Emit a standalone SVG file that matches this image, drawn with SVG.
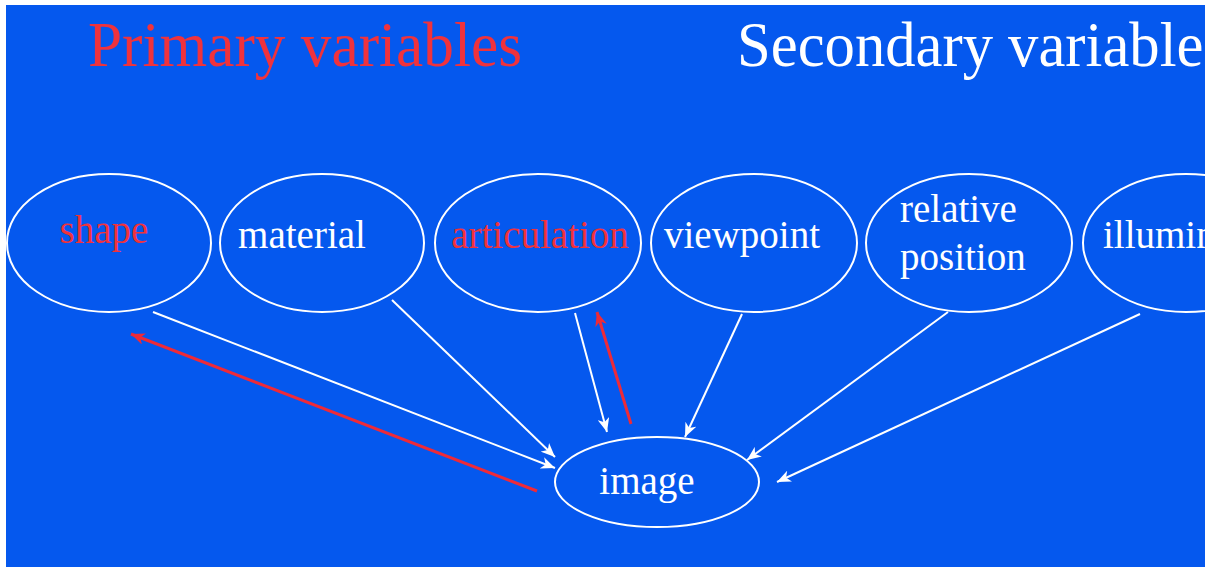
<svg xmlns="http://www.w3.org/2000/svg" width="1217" height="567" viewBox="0 0 1217 567">
  <style>
    .node ellipse { fill: none; stroke: #ffffff; stroke-width: 2; }
    .lbl { font-family: "Liberation Serif", "Times New Roman", serif; font-size: 39px; fill: #ffffff; }
    .lbl.red { fill: #f0323c; }
    .title { font-family: "Liberation Serif", "Times New Roman", serif; font-size: 63px; }
    .edge { fill: none; stroke: #ffffff; stroke-width: 2; }
    .edge.red { stroke: #ee2a38; stroke-width: 3; }
  </style>
  <defs>
    <clipPath id="panel">
      <rect x="6" y="5" width="1199" height="562"/>
    </clipPath>
    <marker id="ah" markerUnits="userSpaceOnUse" markerWidth="16" markerHeight="12" refX="14" refY="6" orient="auto">
      <path d="M0,0 L14,6 L0,12 L4,6 Z" fill="#ffffff"/>
    </marker>
    <marker id="ahr" markerUnits="userSpaceOnUse" markerWidth="16" markerHeight="12" refX="14" refY="6" orient="auto">
      <path d="M0,0 L14,6 L0,12 L4,6 Z" fill="#ee2a38"/>
    </marker>
  </defs>

  <rect x="0" y="0" width="1217" height="567" fill="#ffffff"/>
  <rect x="6" y="5" width="1199" height="562" fill="#0558ee"/>

  <g clip-path="url(#panel)">
    <text class="title" x="88" y="66" fill="#f0323c" textLength="434" lengthAdjust="spacingAndGlyphs">Primary variables</text>
    <text class="title" x="737" y="66" fill="#ffffff" textLength="490" lengthAdjust="spacingAndGlyphs">Secondary variables</text>

    <g id="connectors">
      <line class="edge" x1="153" y1="312" x2="555" y2="468" marker-end="url(#ah)"/>
      <line class="edge" x1="392" y1="300" x2="555" y2="457" marker-end="url(#ah)"/>
      <line class="edge" x1="575" y1="313" x2="607" y2="432" stroke-width="4" marker-end="url(#ah)"/>
      <line class="edge red" x1="631" y1="424" x2="597" y2="312" marker-end="url(#ahr)"/>
      <line class="edge" x1="742" y1="314" x2="685" y2="437" marker-end="url(#ah)"/>
      <line class="edge" x1="948" y1="312" x2="747" y2="460" stroke-width="3" marker-end="url(#ah)"/>
      <line class="edge" x1="1140" y1="314" x2="777" y2="482" marker-end="url(#ah)"/>
      <line class="edge red" x1="537" y1="491" x2="131" y2="334" marker-end="url(#ahr)"/>
    </g>

    <g id="shape" class="node">
      <ellipse cx="109" cy="243" rx="102" ry="69"/>
      <text class="lbl red" x="104" y="243" text-anchor="middle">shape</text>
    </g>
    <g id="material" class="node">
      <ellipse cx="322" cy="243" rx="102" ry="69"/>
      <text class="lbl" x="302" y="248" text-anchor="middle">material</text>
    </g>
    <g id="articulation" class="node">
      <ellipse cx="538" cy="243" rx="103" ry="69"/>
      <text class="lbl red" x="540" y="248" text-anchor="middle">articulation</text>
    </g>
    <g id="viewpoint" class="node">
      <ellipse cx="754" cy="243" rx="103" ry="69"/>
      <text class="lbl" x="742" y="248" text-anchor="middle">viewpoint</text>
    </g>
    <g id="relative-position" class="node">
      <ellipse cx="969" cy="243" rx="103" ry="69"/>
      <text class="lbl" x="900" y="222">relative</text>
      <text class="lbl" x="900" y="270">position</text>
    </g>
    <g id="illumination" class="node">
      <ellipse cx="1186" cy="243" rx="103" ry="69"/>
      <text class="lbl" x="1103" y="248">illumination</text>
    </g>
    <g id="image" class="node">
      <ellipse cx="657" cy="482" rx="102" ry="45"/>
      <text class="lbl" x="647" y="494" text-anchor="middle">image</text>
    </g>
  </g>
</svg>
